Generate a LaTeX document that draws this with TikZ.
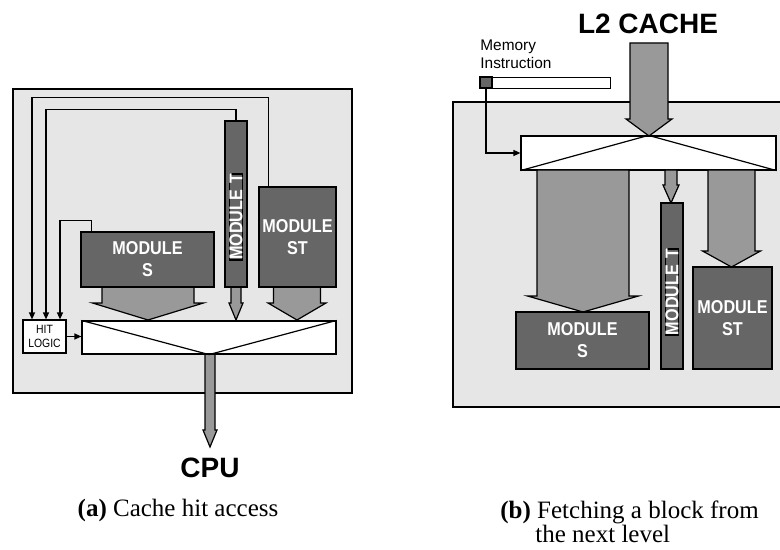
\documentclass[tikz,border=0pt]{standalone}
\usepackage{fontspec}
\setmainfont{Liberation Serif}
\newfontfamily\arialfont{Liberation Sans}
\newfontfamily\narrowfont[FakeStretch=0.87]{Liberation Sans}
\usepackage{tikz}
\usetikzlibrary{arrows.meta, positioning}
\usepackage{xcolor}

\definecolor{bggray}{HTML}{E6E6E6}
\definecolor{modgray}{HTML}{666666}
\definecolor{arrgray}{HTML}{999999}

\tikzset{
    panel/.style={draw, fill=bggray, line width=0.6pt},
    module/.style={draw, fill=modgray, line width=0.6pt, inner sep=0pt,
        text=white, align=center,
        font=\narrowfont\bfseries\fontsize{9.3}{11}\selectfont},
    hub/.style={draw, fill=white, line width=0.6pt, inner sep=0pt},
    fat/.style={draw, fill=arrgray, line width=0.6pt},
    wire/.style={line width=0.6pt, -{Triangle[length=3.5pt,width=3pt]}},
}

% fat arrow: centre x, body half width, head half width, top, head, tip
\newcommand{\fatarrow}[6]{%
    \draw[fat] (#1-#2,#4) -- (#1+#2,#4) -- (#1+#2,#5) -- (#1+#3,#5)
        -- (#1,#6) -- (#1-#3,#5) -- (#1-#2,#5) -- cycle;}

\begin{document}
\begin{tikzpicture}[x=0.5pt, y=-0.5pt]
            \useasboundingbox (0,0) rectangle (780,550);

            % (a) hit access
            \draw[panel] (13,89) rectangle (352,393);

            \fatarrow{148}{46}{55.5}{287}{303}{320}
            \fatarrow{236}{5}{7}{287}{303}{320}
            \fatarrow{297}{23.5}{29}{287}{303}{320}
            \fatarrow{210}{5}{7}{354}{430}{447}

            \node[module, minimum width=66.5pt, minimum height=27.5pt] (sA) at (147.5,259.5) {MODULE\\S};
            \node[module, minimum width=11pt, minimum height=83pt] (tA) at (236,204) {};
            \node[module, rotate=90] (tAlbl) at (236,217) {MODULE\hspace{3pt}T};
            \node[module, minimum width=38.5pt, minimum height=50pt] (stA) at (297.5,237) {MODULE\\ST};

            \node[hub, minimum width=127pt, minimum height=16.5pt] (hubA) at (209,337.5) {};
            \draw[line width=0.6pt] (hubA.north west) -- (hubA.south) -- (hubA.north east);

            \node[hub, minimum width=21.5pt, minimum height=16.5pt, align=center,
                font=\narrowfont\fontsize{6}{7}\selectfont] (hitA) at (44.5,336.5) {HIT\\LOGIC};

            \draw[wire] (hitA.east) -- (hitA.east -| hubA.west);
            \draw[wire] ([xshift=5pt]stA.north west) -- ++(0,-89) -| ([xshift=-6.25pt]hitA.north);
            \draw[wire] (tA.north) -- ++(0,-11) -| ([xshift=0.75pt]hitA.north);
            \draw[wire] ([xshift=5.5pt]sA.north west) -- ++(0,-11) -| ([xshift=7.75pt]hitA.north);

            \node[font=\arialfont\bfseries\fontsize{14}{16}\selectfont] (cpu) at (210,468) {CPU};
            \node[font=\fontsize{12.5}{12}\selectfont] (capA) at (178,510) {\textbf{(a)} Cache hit access};

            % (b) fetch from next level
            \draw[panel] (453,102) rectangle (784,407);

            \node[font=\arialfont\bfseries\fontsize{14}{16}\selectfont] (l2) at (648,24) {L2 CACHE};
            \fatarrow{649}{19}{23}{43}{119}{136}

            \node[hub, minimum width=127.5pt, minimum height=17pt] (hubB) at (648.5,153) {};
            \draw[line width=0.6pt] (hubB.south west) -- (hubB.north) -- (hubB.south east);

            \fatarrow{583}{46}{55.5}{170}{296}{312}
            \fatarrow{671}{6}{8}{170}{185}{203}
            \fatarrow{731.5}{23.5}{29}{170}{251}{267}

            \node[module, minimum width=66.5pt, minimum height=28.5pt] (sB) at (582.5,340.5) {MODULE\\S};
            \node[module, minimum width=11pt, minimum height=83pt] (tB) at (672,286) {};
            \node[module, rotate=90] (tBlbl) at (672,292) {MODULE\hspace{3pt}T};
            \node[module, minimum width=39.5pt, minimum height=51pt] (stB) at (732.5,318) {MODULE\\ST};

            \node[anchor=north west, align=left, inner sep=0pt,
                font=\arialfont\fontsize{7.7}{9}\selectfont] (memlbl) at (480,40) {Memory\\Instruction};
            \node[draw, fill=white, line width=0.6pt, inner sep=0pt, anchor=north west,
                minimum width=65pt, minimum height=5.5pt] (membar) at (480,77) {};
            \draw[fill=modgray, line width=0.6pt] (membar.north west) rectangle ++(12,11);
            \draw[wire] ([xshift=3pt]membar.south west) |- (hubB.west);

            \node[anchor=base west, inner sep=0pt, font=\fontsize{12.5}{12}\selectfont] (capB) at (500,518) {\textbf{(b)} Fetching a block from};
            \node[anchor=base west, inner sep=0pt, font=\fontsize{12.5}{12}\selectfont] (capBb) at (535,542) {the next level};
        \end{tikzpicture}
\end{document}
